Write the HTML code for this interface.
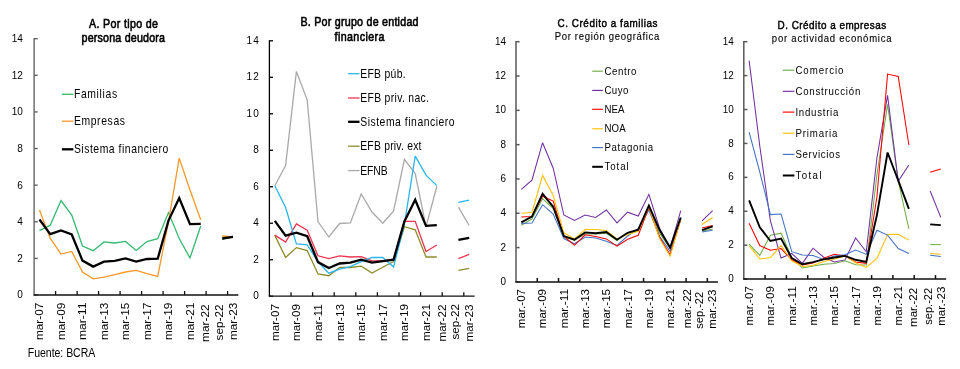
<!DOCTYPE html><html><head><meta charset="utf-8"><style>html,body{margin:0;padding:0;background:#fff;overflow:hidden;}svg{display:block;will-change:transform;}text{font-family:"Liberation Sans", sans-serif;}</style></head><body>
<svg width="960" height="369" viewBox="0 0 960 369">
<rect width="960" height="369" fill="#fff"/>
<g>
<line x1="34.1" y1="38.1" x2="34.1" y2="295" stroke="#595959" stroke-width="1.3"/>
<line x1="34.1" y1="295" x2="37.7" y2="295" stroke="#595959" stroke-width="1.3"/>
<text transform="translate(22.8,298.4) scale(0.85,1)" x="0" y="0" font-size="11.8" text-anchor="end" font-weight="normal" fill="#000" textLength="6.53" lengthAdjust="spacing" >0</text>
<line x1="34.1" y1="258.39" x2="37.7" y2="258.39" stroke="#595959" stroke-width="1.3"/>
<text transform="translate(22.8,261.79) scale(0.85,1)" x="0" y="0" font-size="11.8" text-anchor="end" font-weight="normal" fill="#000" textLength="6.53" lengthAdjust="spacing" >2</text>
<line x1="34.1" y1="221.77" x2="37.7" y2="221.77" stroke="#595959" stroke-width="1.3"/>
<text transform="translate(22.8,225.17) scale(0.85,1)" x="0" y="0" font-size="11.8" text-anchor="end" font-weight="normal" fill="#000" textLength="6.53" lengthAdjust="spacing" >4</text>
<line x1="34.1" y1="185.16" x2="37.7" y2="185.16" stroke="#595959" stroke-width="1.3"/>
<text transform="translate(22.8,188.56) scale(0.85,1)" x="0" y="0" font-size="11.8" text-anchor="end" font-weight="normal" fill="#000" textLength="6.53" lengthAdjust="spacing" >6</text>
<line x1="34.1" y1="148.54" x2="37.7" y2="148.54" stroke="#595959" stroke-width="1.3"/>
<text transform="translate(22.8,151.94) scale(0.85,1)" x="0" y="0" font-size="11.8" text-anchor="end" font-weight="normal" fill="#000" textLength="6.53" lengthAdjust="spacing" >8</text>
<line x1="34.1" y1="111.93" x2="37.7" y2="111.93" stroke="#595959" stroke-width="1.3"/>
<text transform="translate(22.8,115.33) scale(0.85,1)" x="0" y="0" font-size="11.8" text-anchor="end" font-weight="normal" fill="#000" textLength="13.06" lengthAdjust="spacing" >10</text>
<line x1="34.1" y1="75.31" x2="37.7" y2="75.31" stroke="#595959" stroke-width="1.3"/>
<text transform="translate(22.8,78.71) scale(0.85,1)" x="0" y="0" font-size="11.8" text-anchor="end" font-weight="normal" fill="#000" textLength="13.06" lengthAdjust="spacing" >12</text>
<line x1="34.1" y1="38.7" x2="37.7" y2="38.7" stroke="#595959" stroke-width="1.3"/>
<text transform="translate(22.8,42.1) scale(0.85,1)" x="0" y="0" font-size="11.8" text-anchor="end" font-weight="normal" fill="#000" textLength="13.06" lengthAdjust="spacing" >14</text>
<line x1="33.45" y1="295" x2="238.35" y2="295" stroke="#111" stroke-width="1.3"/>
<line x1="55.6" y1="295" x2="55.6" y2="291" stroke="#111" stroke-width="1.3"/>
<line x1="77.1" y1="295" x2="77.1" y2="291" stroke="#111" stroke-width="1.3"/>
<line x1="98.6" y1="295" x2="98.6" y2="291" stroke="#111" stroke-width="1.3"/>
<line x1="120.1" y1="295" x2="120.1" y2="291" stroke="#111" stroke-width="1.3"/>
<line x1="141.6" y1="295" x2="141.6" y2="291" stroke="#111" stroke-width="1.3"/>
<line x1="163.1" y1="295" x2="163.1" y2="291" stroke="#111" stroke-width="1.3"/>
<line x1="184.6" y1="295" x2="184.6" y2="291" stroke="#111" stroke-width="1.3"/>
<line x1="206.1" y1="295" x2="206.1" y2="291" stroke="#111" stroke-width="1.3"/>
<line x1="227.6" y1="295" x2="227.6" y2="291" stroke="#111" stroke-width="1.3"/>
<text transform="translate(43.38,302.6) rotate(-90)" x="0" y="0" font-size="11.8" text-anchor="end" textLength="37.5" lengthAdjust="spacingAndGlyphs">mar-07</text>
<text transform="translate(64.88,302.6) rotate(-90)" x="0" y="0" font-size="11.8" text-anchor="end" textLength="37.5" lengthAdjust="spacingAndGlyphs">mar-09</text>
<text transform="translate(86.38,302.6) rotate(-90)" x="0" y="0" font-size="11.8" text-anchor="end" textLength="37.5" lengthAdjust="spacingAndGlyphs">mar-11</text>
<text transform="translate(107.88,302.6) rotate(-90)" x="0" y="0" font-size="11.8" text-anchor="end" textLength="37.5" lengthAdjust="spacingAndGlyphs">mar-13</text>
<text transform="translate(129.38,302.6) rotate(-90)" x="0" y="0" font-size="11.8" text-anchor="end" textLength="37.5" lengthAdjust="spacingAndGlyphs">mar-15</text>
<text transform="translate(150.88,302.6) rotate(-90)" x="0" y="0" font-size="11.8" text-anchor="end" textLength="37.5" lengthAdjust="spacingAndGlyphs">mar-17</text>
<text transform="translate(172.38,302.6) rotate(-90)" x="0" y="0" font-size="11.8" text-anchor="end" textLength="37.5" lengthAdjust="spacingAndGlyphs">mar-19</text>
<text transform="translate(193.88,302.6) rotate(-90)" x="0" y="0" font-size="11.8" text-anchor="end" textLength="37.5" lengthAdjust="spacingAndGlyphs">mar-21</text>
<text transform="translate(208.8,304.4) rotate(-90)" x="0" y="0" font-size="11.8" text-anchor="end" textLength="37.5" lengthAdjust="spacingAndGlyphs">mar-22</text>
<text transform="translate(222.9,304.4) rotate(-90)" x="0" y="0" font-size="11.8" text-anchor="end" textLength="36" lengthAdjust="spacingAndGlyphs">sep-22</text>
<text transform="translate(236.5,302.6) rotate(-90)" x="0" y="0" font-size="11.8" text-anchor="end" textLength="37.5" lengthAdjust="spacingAndGlyphs">mar-23</text>
<polyline points="39.48,230.6 50.23,225.2 60.98,200.5 71.72,215 82.47,246 93.22,250.7 103.97,241.9 114.72,243 125.47,241.4 136.22,250.4 146.97,241.6 157.72,238.7 168.47,212.6 179.22,238.5 189.97,258 200.72,226" fill="none" stroke="#33b96f" stroke-width="1.3" stroke-linejoin="miter" stroke-miterlimit="3" />
<polyline points="222.22,239.5 232.97,236" fill="none" stroke="#33b96f" stroke-width="1.3" stroke-linejoin="miter" stroke-miterlimit="3" />
<polyline points="39.48,210.1 50.23,238.2 60.98,254.1 71.72,251.4 82.47,272 93.22,278.8 103.97,277.2 114.72,274.7 125.47,272 136.22,270.4 146.97,273.7 157.72,276.4 168.47,222 179.22,158.1 189.97,190 200.72,219.8" fill="none" stroke="#f9982a" stroke-width="1.3" stroke-linejoin="miter" stroke-miterlimit="3" />
<polyline points="222.22,236 232.97,237" fill="none" stroke="#f9982a" stroke-width="1.3" stroke-linejoin="miter" stroke-miterlimit="3" />
<polyline points="39.48,219.5 50.23,234.1 60.98,230.4 71.72,234.5 82.47,260.6 93.22,266.6 103.97,261.7 114.72,260.9 125.47,258.5 136.22,261.5 146.97,259 157.72,258.7 168.47,220.6 179.22,198.1 189.97,224.1 200.72,223.8" fill="none" stroke="#000" stroke-width="2.3" stroke-linejoin="miter" stroke-miterlimit="3" />
<polyline points="222.22,238.5 232.97,236.9" fill="none" stroke="#000" stroke-width="2.3" stroke-linejoin="miter" stroke-miterlimit="3" />
<line x1="61.9" y1="94.3" x2="73.4" y2="94.3" stroke="#33b96f" stroke-width="1.3"/>
<text transform="translate(73.9,98) scale(0.8,1)" x="0" y="0" font-size="13" text-anchor="start" font-weight="normal" fill="#000" textLength="54" lengthAdjust="spacing" >Familias</text>
<line x1="61.9" y1="121.2" x2="73.4" y2="121.2" stroke="#f9982a" stroke-width="1.3"/>
<text transform="translate(73.9,124.9) scale(0.8,1)" x="0" y="0" font-size="13" text-anchor="start" font-weight="normal" fill="#000" textLength="63.88" lengthAdjust="spacing" >Empresas</text>
<line x1="61.9" y1="149.3" x2="73.4" y2="149.3" stroke="#000" stroke-width="2.3"/>
<text transform="translate(73.9,153) scale(0.8,1)" x="0" y="0" font-size="13" text-anchor="start" font-weight="normal" fill="#000" textLength="118.12" lengthAdjust="spacing" >Sistema financiero</text>
<text transform="translate(123.5,27.6) scale(0.85,1)" x="0" y="0" font-size="12.6" text-anchor="middle" font-weight="normal" fill="#000" textLength="81.06" lengthAdjust="spacing" stroke="#000" stroke-width="0.6">A. Por tipo de</text>
<text transform="translate(123.3,41.7) scale(0.85,1)" x="0" y="0" font-size="12.6" text-anchor="middle" font-weight="normal" fill="#000" textLength="98.24" lengthAdjust="spacing" stroke="#000" stroke-width="0.6">persona deudora</text>
</g>
<g>
<line x1="269.4" y1="40.2" x2="269.4" y2="296.2" stroke="#000" stroke-width="1.3"/>
<line x1="269.4" y1="296.2" x2="273" y2="296.2" stroke="#000" stroke-width="1.3"/>
<text transform="translate(258.8,299.2) scale(0.85,1)" x="0" y="0" font-size="11.8" text-anchor="end" font-weight="normal" fill="#000" textLength="7.18" lengthAdjust="spacing" >0</text>
<line x1="269.4" y1="259.71" x2="273" y2="259.71" stroke="#000" stroke-width="1.3"/>
<text transform="translate(258.8,262.71) scale(0.85,1)" x="0" y="0" font-size="11.8" text-anchor="end" font-weight="normal" fill="#000" textLength="7.18" lengthAdjust="spacing" >2</text>
<line x1="269.4" y1="223.23" x2="273" y2="223.23" stroke="#000" stroke-width="1.3"/>
<text transform="translate(258.8,226.23) scale(0.85,1)" x="0" y="0" font-size="11.8" text-anchor="end" font-weight="normal" fill="#000" textLength="7.18" lengthAdjust="spacing" >4</text>
<line x1="269.4" y1="186.74" x2="273" y2="186.74" stroke="#000" stroke-width="1.3"/>
<text transform="translate(258.8,189.74) scale(0.85,1)" x="0" y="0" font-size="11.8" text-anchor="end" font-weight="normal" fill="#000" textLength="7.18" lengthAdjust="spacing" >6</text>
<line x1="269.4" y1="150.26" x2="273" y2="150.26" stroke="#000" stroke-width="1.3"/>
<text transform="translate(258.8,153.26) scale(0.85,1)" x="0" y="0" font-size="11.8" text-anchor="end" font-weight="normal" fill="#000" textLength="7.18" lengthAdjust="spacing" >8</text>
<line x1="269.4" y1="113.77" x2="273" y2="113.77" stroke="#000" stroke-width="1.3"/>
<text transform="translate(258.8,116.77) scale(0.85,1)" x="0" y="0" font-size="11.8" text-anchor="end" font-weight="normal" fill="#000" textLength="14.35" lengthAdjust="spacing" >10</text>
<line x1="269.4" y1="77.29" x2="273" y2="77.29" stroke="#000" stroke-width="1.3"/>
<text transform="translate(258.8,80.29) scale(0.85,1)" x="0" y="0" font-size="11.8" text-anchor="end" font-weight="normal" fill="#000" textLength="14.35" lengthAdjust="spacing" >12</text>
<line x1="269.4" y1="40.8" x2="273" y2="40.8" stroke="#000" stroke-width="1.3"/>
<text transform="translate(258.8,43.8) scale(0.85,1)" x="0" y="0" font-size="11.8" text-anchor="end" font-weight="normal" fill="#000" textLength="14.35" lengthAdjust="spacing" >14</text>
<line x1="268.75" y1="296.2" x2="474.6" y2="296.2" stroke="#111" stroke-width="1.3"/>
<line x1="291" y1="296.2" x2="291" y2="292.2" stroke="#111" stroke-width="1.3"/>
<line x1="312.6" y1="296.2" x2="312.6" y2="292.2" stroke="#111" stroke-width="1.3"/>
<line x1="334.2" y1="296.2" x2="334.2" y2="292.2" stroke="#111" stroke-width="1.3"/>
<line x1="355.8" y1="296.2" x2="355.8" y2="292.2" stroke="#111" stroke-width="1.3"/>
<line x1="377.4" y1="296.2" x2="377.4" y2="292.2" stroke="#111" stroke-width="1.3"/>
<line x1="399" y1="296.2" x2="399" y2="292.2" stroke="#111" stroke-width="1.3"/>
<line x1="420.6" y1="296.2" x2="420.6" y2="292.2" stroke="#111" stroke-width="1.3"/>
<line x1="442.2" y1="296.2" x2="442.2" y2="292.2" stroke="#111" stroke-width="1.3"/>
<line x1="463.8" y1="296.2" x2="463.8" y2="292.2" stroke="#111" stroke-width="1.3"/>
<text transform="translate(278.7,304) rotate(-90)" x="0" y="0" font-size="11.8" text-anchor="end" textLength="37" lengthAdjust="spacingAndGlyphs">mar-07</text>
<text transform="translate(300.3,304) rotate(-90)" x="0" y="0" font-size="11.8" text-anchor="end" textLength="37" lengthAdjust="spacingAndGlyphs">mar-09</text>
<text transform="translate(321.9,304) rotate(-90)" x="0" y="0" font-size="11.8" text-anchor="end" textLength="37" lengthAdjust="spacingAndGlyphs">mar-11</text>
<text transform="translate(343.5,304) rotate(-90)" x="0" y="0" font-size="11.8" text-anchor="end" textLength="37" lengthAdjust="spacingAndGlyphs">mar-13</text>
<text transform="translate(365.1,304) rotate(-90)" x="0" y="0" font-size="11.8" text-anchor="end" textLength="37" lengthAdjust="spacingAndGlyphs">mar-15</text>
<text transform="translate(386.7,304) rotate(-90)" x="0" y="0" font-size="11.8" text-anchor="end" textLength="37" lengthAdjust="spacingAndGlyphs">mar-17</text>
<text transform="translate(408.3,304) rotate(-90)" x="0" y="0" font-size="11.8" text-anchor="end" textLength="37" lengthAdjust="spacingAndGlyphs">mar-19</text>
<text transform="translate(429.9,304) rotate(-90)" x="0" y="0" font-size="11.8" text-anchor="end" textLength="37" lengthAdjust="spacingAndGlyphs">mar-21</text>
<text transform="translate(445.7,304.5) rotate(-90)" x="0" y="0" font-size="11.8" text-anchor="end" textLength="37" lengthAdjust="spacingAndGlyphs">mar-22</text>
<text transform="translate(459.2,304) rotate(-90)" x="0" y="0" font-size="11.8" text-anchor="end" textLength="35.5" lengthAdjust="spacingAndGlyphs">sep-22</text>
<text transform="translate(473,304.5) rotate(-90)" x="0" y="0" font-size="11.8" text-anchor="end" textLength="37" lengthAdjust="spacingAndGlyphs">mar-23</text>
<polyline points="274.8,185.8 285.6,165.6 296.4,71.4 307.2,99.8 318,221.5 328.8,237 339.6,223.5 350.4,222.9 361.2,194 372,212 382.8,223.3 393.6,211 404.4,159.3 415.2,173.5 426,226.8 436.8,186.5" fill="none" stroke="#a9a9a9" stroke-width="1.3" stroke-linejoin="miter" stroke-miterlimit="3" />
<polyline points="458.4,207.1 469.2,225.5" fill="none" stroke="#a9a9a9" stroke-width="1.3" stroke-linejoin="miter" stroke-miterlimit="3" />
<polyline points="274.8,235.4 285.6,257.4 296.4,247.6 307.2,250.5 318,274 328.8,275.7 339.6,267.5 350.4,267.5 361.2,266.1 372,273 382.8,267.3 393.6,261.6 404.4,226.7 415.2,229.8 426,257 436.8,257" fill="none" stroke="#8e8c2a" stroke-width="1.3" stroke-linejoin="miter" stroke-miterlimit="3" />
<polyline points="458.4,270.4 469.2,268.4" fill="none" stroke="#8e8c2a" stroke-width="1.3" stroke-linejoin="miter" stroke-miterlimit="3" />
<polyline points="274.8,235.1 285.6,242.1 296.4,224 307.2,230.2 318,255.8 328.8,258.6 339.6,255.8 350.4,257 361.2,256.6 372,260.8 382.8,260.8 393.6,259.1 404.4,221.3 415.2,221.3 426,251.5 436.8,245" fill="none" stroke="#ee3350" stroke-width="1.3" stroke-linejoin="miter" stroke-miterlimit="3" />
<polyline points="458.4,258.7 469.2,254.4" fill="none" stroke="#ee3350" stroke-width="1.3" stroke-linejoin="miter" stroke-miterlimit="3" />
<polyline points="274.8,185.8 285.6,207.5 296.4,244 307.2,244.8 318,261.8 328.8,273.2 339.6,269.1 350.4,266.7 361.2,261.7 372,257.5 382.8,257.5 393.6,267 404.4,224 415.2,156.1 426,175.1 436.8,185.6" fill="none" stroke="#2ab6ee" stroke-width="1.3" stroke-linejoin="miter" stroke-miterlimit="3" />
<polyline points="458.4,202.3 469.2,200.2" fill="none" stroke="#2ab6ee" stroke-width="1.3" stroke-linejoin="miter" stroke-miterlimit="3" />
<polyline points="274.8,220.9 285.6,235.6 296.4,232.6 307.2,236.2 318,262.1 328.8,268 339.6,263.5 350.4,262.6 361.2,259.6 372,262.7 382.8,261.1 393.6,259.6 404.4,221.5 415.2,199.7 426,225.9 436.8,225.1" fill="none" stroke="#000" stroke-width="2.3" stroke-linejoin="miter" stroke-miterlimit="3" />
<polyline points="458.4,239.8 469.2,237.9" fill="none" stroke="#000" stroke-width="2.3" stroke-linejoin="miter" stroke-miterlimit="3" />
<line x1="348.1" y1="73.7" x2="359.5" y2="73.7" stroke="#2ab6ee" stroke-width="1.3"/>
<text transform="translate(360.2,77.7) scale(0.8,1)" x="0" y="0" font-size="13" text-anchor="start" font-weight="normal" fill="#000" textLength="56.75" lengthAdjust="spacing" >EFB púb.</text>
<line x1="348.1" y1="98" x2="359.5" y2="98" stroke="#ee3350" stroke-width="1.3"/>
<text transform="translate(360.2,102) scale(0.8,1)" x="0" y="0" font-size="13" text-anchor="start" font-weight="normal" fill="#000" textLength="86" lengthAdjust="spacing" >EFB priv. nac.</text>
<line x1="348.1" y1="121.8" x2="359.5" y2="121.8" stroke="#000" stroke-width="2.3"/>
<text transform="translate(360.2,125.8) scale(0.8,1)" x="0" y="0" font-size="13" text-anchor="start" font-weight="normal" fill="#000" textLength="118" lengthAdjust="spacing" >Sistema financiero</text>
<line x1="348.1" y1="146.2" x2="359.5" y2="146.2" stroke="#8e8c2a" stroke-width="1.3"/>
<text transform="translate(360.2,150.2) scale(0.8,1)" x="0" y="0" font-size="13" text-anchor="start" font-weight="normal" fill="#000" textLength="76.62" lengthAdjust="spacing" >EFB priv. ext</text>
<line x1="348.1" y1="170.6" x2="359.5" y2="170.6" stroke="#a9a9a9" stroke-width="1.3"/>
<text transform="translate(360.2,174.6) scale(0.8,1)" x="0" y="0" font-size="13" text-anchor="start" font-weight="normal" fill="#000" textLength="34.38" lengthAdjust="spacing" >EFNB</text>
<text transform="translate(359.5,25.75) scale(0.85,1)" x="0" y="0" font-size="12.6" text-anchor="middle" font-weight="normal" fill="#000" textLength="138.94" lengthAdjust="spacing" stroke="#000" stroke-width="0.6">B. Por grupo de entidad</text>
<text transform="translate(359.5,40.6) scale(0.85,1)" x="0" y="0" font-size="12.6" text-anchor="middle" font-weight="normal" fill="#000" textLength="58.82" lengthAdjust="spacing" stroke="#000" stroke-width="0.6">financiera</text>
</g>
<g>
<line x1="516" y1="41.1" x2="516" y2="281.9" stroke="#595959" stroke-width="1.5"/>
<line x1="516" y1="281.9" x2="519.6" y2="281.9" stroke="#595959" stroke-width="1.5"/>
<text transform="translate(505.9,285) scale(0.9,1)" x="0" y="0" font-size="11" text-anchor="end" font-weight="normal" fill="#000" >0</text>
<line x1="516" y1="247.59" x2="519.6" y2="247.59" stroke="#595959" stroke-width="1.5"/>
<text transform="translate(505.9,250.69) scale(0.9,1)" x="0" y="0" font-size="11" text-anchor="end" font-weight="normal" fill="#000" >2</text>
<line x1="516" y1="213.27" x2="519.6" y2="213.27" stroke="#595959" stroke-width="1.5"/>
<text transform="translate(505.9,216.37) scale(0.9,1)" x="0" y="0" font-size="11" text-anchor="end" font-weight="normal" fill="#000" >4</text>
<line x1="516" y1="178.96" x2="519.6" y2="178.96" stroke="#595959" stroke-width="1.5"/>
<text transform="translate(505.9,182.06) scale(0.9,1)" x="0" y="0" font-size="11" text-anchor="end" font-weight="normal" fill="#000" >6</text>
<line x1="516" y1="144.64" x2="519.6" y2="144.64" stroke="#595959" stroke-width="1.5"/>
<text transform="translate(505.9,147.74) scale(0.9,1)" x="0" y="0" font-size="11" text-anchor="end" font-weight="normal" fill="#000" >8</text>
<line x1="516" y1="110.33" x2="519.6" y2="110.33" stroke="#595959" stroke-width="1.5"/>
<text transform="translate(505.9,113.43) scale(0.9,1)" x="0" y="0" font-size="11" text-anchor="end" font-weight="normal" fill="#000" >10</text>
<line x1="516" y1="76.01" x2="519.6" y2="76.01" stroke="#595959" stroke-width="1.5"/>
<text transform="translate(505.9,79.11) scale(0.9,1)" x="0" y="0" font-size="11" text-anchor="end" font-weight="normal" fill="#000" >12</text>
<line x1="516" y1="41.7" x2="519.6" y2="41.7" stroke="#595959" stroke-width="1.5"/>
<text transform="translate(505.9,44.8) scale(0.9,1)" x="0" y="0" font-size="11" text-anchor="end" font-weight="normal" fill="#000" >14</text>
<line x1="515.25" y1="281.9" x2="717.97" y2="281.9" stroke="#111" stroke-width="1.5"/>
<line x1="537.26" y1="281.9" x2="537.26" y2="277.9" stroke="#111" stroke-width="1.5"/>
<line x1="558.52" y1="281.9" x2="558.52" y2="277.9" stroke="#111" stroke-width="1.5"/>
<line x1="579.78" y1="281.9" x2="579.78" y2="277.9" stroke="#111" stroke-width="1.5"/>
<line x1="601.04" y1="281.9" x2="601.04" y2="277.9" stroke="#111" stroke-width="1.5"/>
<line x1="622.3" y1="281.9" x2="622.3" y2="277.9" stroke="#111" stroke-width="1.5"/>
<line x1="643.56" y1="281.9" x2="643.56" y2="277.9" stroke="#111" stroke-width="1.5"/>
<line x1="664.82" y1="281.9" x2="664.82" y2="277.9" stroke="#111" stroke-width="1.5"/>
<line x1="686.08" y1="281.9" x2="686.08" y2="277.9" stroke="#111" stroke-width="1.5"/>
<line x1="707.34" y1="281.9" x2="707.34" y2="277.9" stroke="#111" stroke-width="1.5"/>
<text transform="translate(525.22,289) rotate(-90)" x="0" y="0" font-size="11" text-anchor="end" textLength="39.2" lengthAdjust="spacingAndGlyphs">mar.-07</text>
<text transform="translate(546.48,289) rotate(-90)" x="0" y="0" font-size="11" text-anchor="end" textLength="39.2" lengthAdjust="spacingAndGlyphs">mar.-09</text>
<text transform="translate(567.74,289) rotate(-90)" x="0" y="0" font-size="11" text-anchor="end" textLength="39.2" lengthAdjust="spacingAndGlyphs">mar.-11</text>
<text transform="translate(589,289) rotate(-90)" x="0" y="0" font-size="11" text-anchor="end" textLength="39.2" lengthAdjust="spacingAndGlyphs">mar.-13</text>
<text transform="translate(610.25,289) rotate(-90)" x="0" y="0" font-size="11" text-anchor="end" textLength="39.2" lengthAdjust="spacingAndGlyphs">mar.-15</text>
<text transform="translate(631.51,289) rotate(-90)" x="0" y="0" font-size="11" text-anchor="end" textLength="39.2" lengthAdjust="spacingAndGlyphs">mar.-17</text>
<text transform="translate(652.77,289) rotate(-90)" x="0" y="0" font-size="11" text-anchor="end" textLength="39.2" lengthAdjust="spacingAndGlyphs">mar.-19</text>
<text transform="translate(674.03,289) rotate(-90)" x="0" y="0" font-size="11" text-anchor="end" textLength="39.2" lengthAdjust="spacingAndGlyphs">mar.-21</text>
<text transform="translate(690.5,289) rotate(-90)" x="0" y="0" font-size="11" text-anchor="end" textLength="39.2" lengthAdjust="spacingAndGlyphs">mar.-22</text>
<text transform="translate(702.8,291.8) rotate(-90)" x="0" y="0" font-size="11" text-anchor="end" textLength="37" lengthAdjust="spacingAndGlyphs">sep.-22</text>
<text transform="translate(716.1,289.5) rotate(-90)" x="0" y="0" font-size="11" text-anchor="end" textLength="39.2" lengthAdjust="spacingAndGlyphs">mar.-23</text>
<polyline points="521.32,225.2 531.95,219 542.58,198.7 553.21,208.5 563.84,236.5 574.47,240.5 585.1,233.7 595.73,234 606.36,233.2 616.99,240.5 627.62,233 638.25,230 648.88,206 659.5,232.9 670.13,248.5 680.76,218.5" fill="none" stroke="#70ad47" stroke-width="1.05" stroke-linejoin="miter" stroke-miterlimit="3" />
<polyline points="702.02,231.3 712.65,229.1" fill="none" stroke="#70ad47" stroke-width="1.05" stroke-linejoin="miter" stroke-miterlimit="3" />
<polyline points="521.32,189.3 531.95,180.2 542.58,142.7 553.21,168.2 563.84,215 574.47,220.4 585.1,215 595.73,217.4 606.36,210 616.99,222.9 627.62,212.2 638.25,216.1 648.88,194.3 659.5,228 670.13,248 680.76,210.6" fill="none" stroke="#7030a0" stroke-width="1.05" stroke-linejoin="miter" stroke-miterlimit="3" />
<polyline points="702.02,220.8 712.65,210.7" fill="none" stroke="#7030a0" stroke-width="1.05" stroke-linejoin="miter" stroke-miterlimit="3" />
<polyline points="521.32,223.6 531.95,223.1 542.58,204.7 553.21,214.1 563.84,238.5 574.47,243.8 585.1,237 595.73,238 606.36,241.3 616.99,245.4 627.62,236 638.25,228.8 648.88,210 659.5,236.3 670.13,251.4 680.76,219" fill="none" stroke="#4472c4" stroke-width="1.05" stroke-linejoin="miter" stroke-miterlimit="3" />
<polyline points="702.02,231.9 712.65,230.2" fill="none" stroke="#4472c4" stroke-width="1.05" stroke-linejoin="miter" stroke-miterlimit="3" />
<polyline points="521.32,217.1 531.95,216.6 542.58,196.3 553.21,201.1 563.84,236.1 574.47,245.4 585.1,234.8 595.73,236.5 606.36,238.9 616.99,246.2 627.62,239.3 638.25,235.3 648.88,207.6 659.5,237.3 670.13,254.7 680.76,219.5" fill="none" stroke="#ff0000" stroke-width="1.05" stroke-linejoin="miter" stroke-miterlimit="3" />
<polyline points="702.02,228.1 712.65,225.4" fill="none" stroke="#ff0000" stroke-width="1.05" stroke-linejoin="miter" stroke-miterlimit="3" />
<polyline points="521.32,213.3 531.95,212.5 542.58,175.5 553.21,195.4 563.84,232.8 574.47,238.9 585.1,229.5 595.73,229.5 606.36,230.4 616.99,238.9 627.62,234.5 638.25,231.2 648.88,206.8 659.5,238.4 670.13,256.3 680.76,219" fill="none" stroke="#ffc000" stroke-width="1.05" stroke-linejoin="miter" stroke-miterlimit="3" />
<polyline points="702.02,224.5 712.65,217.5" fill="none" stroke="#ffc000" stroke-width="1.05" stroke-linejoin="miter" stroke-miterlimit="3" />
<polyline points="521.32,222.3 531.95,216.6 542.58,193.8 553.21,206.8 563.84,236.1 574.47,239.7 585.1,232.4 595.73,233.2 606.36,232.1 616.99,239.7 627.62,232.8 638.25,229.6 648.88,205.7 659.5,229.8 670.13,247.6 680.76,217.5" fill="none" stroke="#000" stroke-width="1.9" stroke-linejoin="miter" stroke-miterlimit="3" />
<polyline points="702.02,230.2 712.65,226.4" fill="none" stroke="#000" stroke-width="1.9" stroke-linejoin="miter" stroke-miterlimit="3" />
<line x1="592.2" y1="71.2" x2="602.9" y2="71.2" stroke="#70ad47" stroke-width="1.15"/>
<text transform="translate(604.4,74.5) scale(0.88,1)" x="0" y="0" font-size="11" text-anchor="start" font-weight="normal" fill="#000" textLength="36.36" lengthAdjust="spacing" >Centro</text>
<line x1="592.2" y1="90.4" x2="602.9" y2="90.4" stroke="#7030a0" stroke-width="1.15"/>
<text transform="translate(604.4,93.7) scale(0.88,1)" x="0" y="0" font-size="11" text-anchor="start" font-weight="normal" fill="#000" textLength="27.27" lengthAdjust="spacing" >Cuyo</text>
<line x1="592.2" y1="109.3" x2="602.9" y2="109.3" stroke="#ff0000" stroke-width="1.15"/>
<text transform="translate(604.4,112.6) scale(0.88,1)" x="0" y="0" font-size="11" text-anchor="start" font-weight="normal" fill="#000" textLength="22.95" lengthAdjust="spacing" >NEA</text>
<line x1="592.2" y1="128.8" x2="602.9" y2="128.8" stroke="#ffc000" stroke-width="1.15"/>
<text transform="translate(604.4,132.1) scale(0.88,1)" x="0" y="0" font-size="11" text-anchor="start" font-weight="normal" fill="#000" textLength="24.32" lengthAdjust="spacing" >NOA</text>
<line x1="592.2" y1="147.6" x2="602.9" y2="147.6" stroke="#4472c4" stroke-width="1.15"/>
<text transform="translate(604.4,150.9) scale(0.88,1)" x="0" y="0" font-size="11" text-anchor="start" font-weight="normal" fill="#000" textLength="55.45" lengthAdjust="spacing" >Patagonia</text>
<line x1="592.2" y1="166.8" x2="602.9" y2="166.8" stroke="#000" stroke-width="2.0"/>
<text transform="translate(604.4,170.1) scale(0.88,1)" x="0" y="0" font-size="11" text-anchor="start" font-weight="normal" fill="#000" textLength="27.61" lengthAdjust="spacing" >Total</text>
<text transform="translate(607.5,26.5) scale(0.9,1)" x="0" y="0" font-size="11" text-anchor="middle" font-weight="normal" fill="#000" textLength="111" lengthAdjust="spacing" stroke="#000" stroke-width="0.45">C. Crédito a familias</text>
<text transform="translate(607,39.8) scale(0.9,1)" x="0" y="0" font-size="10.6" text-anchor="middle" font-weight="normal" fill="#000" textLength="116.33" lengthAdjust="spacing" stroke="#000" stroke-width="0.12">Por región geográfica</text>
</g>
<g>
<line x1="743.8" y1="41.1" x2="743.8" y2="279.1" stroke="#595959" stroke-width="1.5"/>
<line x1="743.8" y1="279.1" x2="747.4" y2="279.1" stroke="#595959" stroke-width="1.5"/>
<text transform="translate(733.8,282.2) scale(0.9,1)" x="0" y="0" font-size="11" text-anchor="end" font-weight="normal" fill="#000" >0</text>
<line x1="743.8" y1="245.19" x2="747.4" y2="245.19" stroke="#595959" stroke-width="1.5"/>
<text transform="translate(733.8,248.29) scale(0.9,1)" x="0" y="0" font-size="11" text-anchor="end" font-weight="normal" fill="#000" >2</text>
<line x1="743.8" y1="211.27" x2="747.4" y2="211.27" stroke="#595959" stroke-width="1.5"/>
<text transform="translate(733.8,214.37) scale(0.9,1)" x="0" y="0" font-size="11" text-anchor="end" font-weight="normal" fill="#000" >4</text>
<line x1="743.8" y1="177.36" x2="747.4" y2="177.36" stroke="#595959" stroke-width="1.5"/>
<text transform="translate(733.8,180.46) scale(0.9,1)" x="0" y="0" font-size="11" text-anchor="end" font-weight="normal" fill="#000" >6</text>
<line x1="743.8" y1="143.44" x2="747.4" y2="143.44" stroke="#595959" stroke-width="1.5"/>
<text transform="translate(733.8,146.54) scale(0.9,1)" x="0" y="0" font-size="11" text-anchor="end" font-weight="normal" fill="#000" >8</text>
<line x1="743.8" y1="109.53" x2="747.4" y2="109.53" stroke="#595959" stroke-width="1.5"/>
<text transform="translate(733.8,112.63) scale(0.9,1)" x="0" y="0" font-size="11" text-anchor="end" font-weight="normal" fill="#000" >10</text>
<line x1="743.8" y1="75.61" x2="747.4" y2="75.61" stroke="#595959" stroke-width="1.5"/>
<text transform="translate(733.8,78.71) scale(0.9,1)" x="0" y="0" font-size="11" text-anchor="end" font-weight="normal" fill="#000" >12</text>
<line x1="743.8" y1="41.7" x2="747.4" y2="41.7" stroke="#595959" stroke-width="1.5"/>
<text transform="translate(733.8,44.8) scale(0.9,1)" x="0" y="0" font-size="11" text-anchor="end" font-weight="normal" fill="#000" >14</text>
<line x1="743.05" y1="279.1" x2="946.15" y2="279.1" stroke="#111" stroke-width="1.5"/>
<line x1="765.1" y1="279.1" x2="765.1" y2="275.1" stroke="#111" stroke-width="1.5"/>
<line x1="786.4" y1="279.1" x2="786.4" y2="275.1" stroke="#111" stroke-width="1.5"/>
<line x1="807.7" y1="279.1" x2="807.7" y2="275.1" stroke="#111" stroke-width="1.5"/>
<line x1="829" y1="279.1" x2="829" y2="275.1" stroke="#111" stroke-width="1.5"/>
<line x1="850.3" y1="279.1" x2="850.3" y2="275.1" stroke="#111" stroke-width="1.5"/>
<line x1="871.6" y1="279.1" x2="871.6" y2="275.1" stroke="#111" stroke-width="1.5"/>
<line x1="892.9" y1="279.1" x2="892.9" y2="275.1" stroke="#111" stroke-width="1.5"/>
<line x1="914.2" y1="279.1" x2="914.2" y2="275.1" stroke="#111" stroke-width="1.5"/>
<line x1="935.5" y1="279.1" x2="935.5" y2="275.1" stroke="#111" stroke-width="1.5"/>
<text transform="translate(753.02,286.2) rotate(-90)" x="0" y="0" font-size="11" text-anchor="end" textLength="39.2" lengthAdjust="spacingAndGlyphs">mar.-07</text>
<text transform="translate(774.32,286.2) rotate(-90)" x="0" y="0" font-size="11" text-anchor="end" textLength="39.2" lengthAdjust="spacingAndGlyphs">mar.-09</text>
<text transform="translate(795.62,286.2) rotate(-90)" x="0" y="0" font-size="11" text-anchor="end" textLength="39.2" lengthAdjust="spacingAndGlyphs">mar.-11</text>
<text transform="translate(816.92,286.2) rotate(-90)" x="0" y="0" font-size="11" text-anchor="end" textLength="39.2" lengthAdjust="spacingAndGlyphs">mar.-13</text>
<text transform="translate(838.22,286.2) rotate(-90)" x="0" y="0" font-size="11" text-anchor="end" textLength="39.2" lengthAdjust="spacingAndGlyphs">mar.-15</text>
<text transform="translate(859.52,286.2) rotate(-90)" x="0" y="0" font-size="11" text-anchor="end" textLength="39.2" lengthAdjust="spacingAndGlyphs">mar.-17</text>
<text transform="translate(880.82,286.2) rotate(-90)" x="0" y="0" font-size="11" text-anchor="end" textLength="39.2" lengthAdjust="spacingAndGlyphs">mar.-19</text>
<text transform="translate(902.12,286.2) rotate(-90)" x="0" y="0" font-size="11" text-anchor="end" textLength="39.2" lengthAdjust="spacingAndGlyphs">mar.-21</text>
<text transform="translate(917.4,287.8) rotate(-90)" x="0" y="0" font-size="11" text-anchor="end" textLength="39.2" lengthAdjust="spacingAndGlyphs">mar.-22</text>
<text transform="translate(931.7,287.8) rotate(-90)" x="0" y="0" font-size="11" text-anchor="end" textLength="37" lengthAdjust="spacingAndGlyphs">sep.-22</text>
<text transform="translate(944.9,286.6) rotate(-90)" x="0" y="0" font-size="11" text-anchor="end" textLength="39.2" lengthAdjust="spacingAndGlyphs">mar.-23</text>
<polyline points="749.12,244.1 759.77,255.4 770.42,235.2 781.07,233.2 791.72,257.5 802.38,268 813.02,265.9 823.67,264.3 834.32,263.5 844.97,260.8 855.62,264.8 866.27,265 876.92,175 887.57,104.4 898.22,181 908.88,228.8" fill="none" stroke="#70ad47" stroke-width="1.05" stroke-linejoin="miter" stroke-miterlimit="3" />
<polyline points="930.17,244.6 940.82,244.6" fill="none" stroke="#70ad47" stroke-width="1.05" stroke-linejoin="miter" stroke-miterlimit="3" />
<polyline points="749.12,60.6 759.77,146 770.42,221 781.07,258.1 791.72,253.4 802.38,263.4 813.02,248.2 823.67,257.2 834.32,261.9 844.97,259.9 855.62,238 866.27,251.7 876.92,158 887.57,95.4 898.22,181.3 908.88,165" fill="none" stroke="#7030a0" stroke-width="1.05" stroke-linejoin="miter" stroke-miterlimit="3" />
<polyline points="930.17,191 940.82,217.4" fill="none" stroke="#7030a0" stroke-width="1.05" stroke-linejoin="miter" stroke-miterlimit="3" />
<polyline points="749.12,223.3 759.77,245.6 770.42,250.3 781.07,248.6 791.72,259.7 802.38,265 813.02,263 823.67,258.3 834.32,254.3 844.97,255.9 855.62,261.9 866.27,263.3 876.92,197 887.57,74.1 898.22,76.5 908.88,145" fill="none" stroke="#ff0000" stroke-width="1.05" stroke-linejoin="miter" stroke-miterlimit="3" />
<polyline points="930.17,172.3 940.82,169.1" fill="none" stroke="#ff0000" stroke-width="1.05" stroke-linejoin="miter" stroke-miterlimit="3" />
<polyline points="749.12,245.7 759.77,259 770.42,257.6 781.07,245.6 791.72,260.8 802.38,266.4 813.02,265.4 823.67,261.6 834.32,259.1 844.97,255.9 855.62,262.8 866.27,267.4 876.92,258.5 887.57,234.4 898.22,234.2 908.88,240.1" fill="none" stroke="#ffc000" stroke-width="1.05" stroke-linejoin="miter" stroke-miterlimit="3" />
<polyline points="930.17,253.5 940.82,254.3" fill="none" stroke="#ffc000" stroke-width="1.05" stroke-linejoin="miter" stroke-miterlimit="3" />
<polyline points="749.12,132.2 759.77,172 770.42,214.6 781.07,214.1 791.72,251.7 802.38,255.1 813.02,255.4 823.67,259.4 834.32,255.9 844.97,254.8 855.62,250.1 866.27,254.4 876.92,230.2 887.57,235.1 898.22,248.6 908.88,253.5" fill="none" stroke="#4472c4" stroke-width="1.05" stroke-linejoin="miter" stroke-miterlimit="3" />
<polyline points="930.17,255.3 940.82,256.5" fill="none" stroke="#4472c4" stroke-width="1.05" stroke-linejoin="miter" stroke-miterlimit="3" />
<polyline points="749.12,200.3 759.77,227.3 770.42,241 781.07,238.6 791.72,258.1 802.38,264.3 813.02,262.1 823.67,259.4 834.32,257.5 844.97,255.9 855.62,259.8 866.27,262 876.92,215 887.57,152.5 898.22,180.4 908.88,208.9" fill="none" stroke="#000" stroke-width="1.9" stroke-linejoin="miter" stroke-miterlimit="3" />
<polyline points="930.17,224.4 940.82,225.1" fill="none" stroke="#000" stroke-width="1.9" stroke-linejoin="miter" stroke-miterlimit="3" />
<line x1="782.8" y1="70.2" x2="794.4" y2="70.2" stroke="#70ad47" stroke-width="1.15"/>
<text transform="translate(795.4,74.1) scale(0.88,1)" x="0" y="0" font-size="11" text-anchor="start" font-weight="normal" fill="#000" textLength="54.55" lengthAdjust="spacing" >Comercio</text>
<line x1="782.8" y1="91.3" x2="794.4" y2="91.3" stroke="#7030a0" stroke-width="1.15"/>
<text transform="translate(795.4,95.2) scale(0.88,1)" x="0" y="0" font-size="11" text-anchor="start" font-weight="normal" fill="#000" textLength="73.75" lengthAdjust="spacing" >Construcción</text>
<line x1="782.8" y1="112.1" x2="794.4" y2="112.1" stroke="#ff0000" stroke-width="1.15"/>
<text transform="translate(795.4,116) scale(0.88,1)" x="0" y="0" font-size="11" text-anchor="start" font-weight="normal" fill="#000" textLength="48.86" lengthAdjust="spacing" >Industria</text>
<line x1="782.8" y1="133.2" x2="794.4" y2="133.2" stroke="#ffc000" stroke-width="1.15"/>
<text transform="translate(795.4,137.1) scale(0.88,1)" x="0" y="0" font-size="11" text-anchor="start" font-weight="normal" fill="#000" textLength="47.73" lengthAdjust="spacing" >Primaria</text>
<line x1="782.8" y1="154.4" x2="794.4" y2="154.4" stroke="#4472c4" stroke-width="1.15"/>
<text transform="translate(795.4,158.3) scale(0.88,1)" x="0" y="0" font-size="11" text-anchor="start" font-weight="normal" fill="#000" textLength="50.68" lengthAdjust="spacing" >Servicios</text>
<line x1="782.8" y1="175.5" x2="794.4" y2="175.5" stroke="#000" stroke-width="2.0"/>
<text transform="translate(795.4,179.4) scale(0.88,1)" x="0" y="0" font-size="11" text-anchor="start" font-weight="normal" fill="#000" textLength="29.77" lengthAdjust="spacing" >Total</text>
<text transform="translate(831.9,28.7) scale(0.9,1)" x="0" y="0" font-size="11" text-anchor="middle" font-weight="normal" fill="#000" textLength="120.78" lengthAdjust="spacing" stroke="#000" stroke-width="0.45">D. Crédito a empresas</text>
<text transform="translate(831.7,41.8) scale(0.9,1)" x="0" y="0" font-size="10.6" text-anchor="middle" font-weight="normal" fill="#000" textLength="133.11" lengthAdjust="spacing" stroke="#000" stroke-width="0.12">por actividad económica</text>
</g>
<text transform="translate(27.8,356.9) scale(0.85,1)" x="0" y="0" font-size="12.4" text-anchor="start" font-weight="normal" fill="#000" textLength="79.41" lengthAdjust="spacing" >Fuente: BCRA</text>
</svg></body></html>
